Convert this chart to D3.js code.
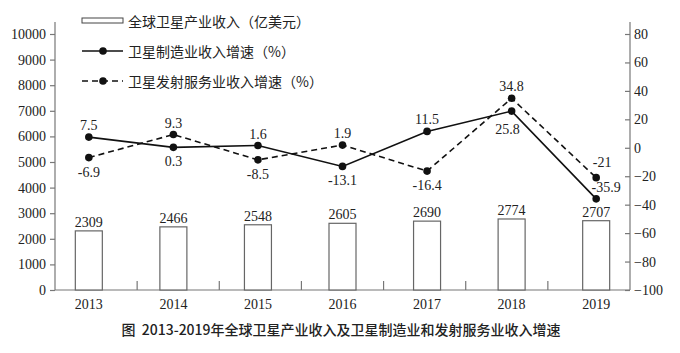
<!DOCTYPE html>
<html>
<head>
<meta charset="utf-8">
<script src="https://cdn.jsdelivr.net/npm/d3@7"></script>
<style>
  body { margin: 0; background: #fff; }
  svg { display: block; }
  .num { font-family: "Liberation Serif", "Times New Roman", serif; font-size: 14px; fill: #222; }
  .cjk { font-family: "Noto Sans CJK SC", sans-serif; font-size: 14px; fill: #222; }
</style>
</head>
<body>
<svg id="chart" width="680" height="353"></svg>
<script>
// data
var years = ["2013", "2014", "2015", "2016", "2017", "2018", "2019"];
var revenue = [2309, 2466, 2548, 2605, 2690, 2774, 2707];
var mfgGrowth = [7.5, 0.3, 1.6, -13.1, 11.5, 25.8, -35.9];
var launchGrowth = [-6.9, 9.3, -8.5, 1.9, -16.4, 34.8, -21];
var leftTicks = [0, 1000, 2000, 3000, 4000, 5000, 6000, 7000, 8000, 9000, 10000];
var rightTicks = [-100, -80, -60, -40, -20, 0, 20, 40, 60, 80];
var legendLabels = ["全球卫星产业收入（亿美元）", "卫星制造业收入增速（%）", "卫星发射服务业收入增速（%）"];
var caption = "图  2013-2019年全球卫星产业收入及卫星制造业和发射服务业收入增速";

// label offsets from each point, [dx, dy] to the text baseline
var mfgLabelOff = [[0, -7], [0, 19], [0, -7], [0, 19], [0, -7], [-4, 23], [10, -7]];
var launchLabelOff = [[0, 19], [0, -7], [0, 19], [0, -7], [0, 19], [0, -7], [6, -11]];

var svg = d3.select("#chart");
var plotLeft = 55, plotRight = 630, plotTop = 22, plotBottom = 290;
var axisColor = "#777";
var serif = '"Liberation Serif", "Times New Roman", serif';

/*
Scales
*/
var x = d3.scalePoint().domain(years).range([plotLeft, plotRight]).padding(0.4);
var xBand = d3.scaleBand().domain(years).range([plotLeft, plotRight]);
var yL = d3.scaleLinear().domain([0, 10000]).range([plotBottom, 34]);
var yR = d3.scaleLinear().domain([-100, 80]).range([plotBottom, 34]);

/*
Axes
*/
var gL = svg.append("g").attr("transform", "translate(" + plotLeft + ",0)")
	.call(d3.axisLeft(yL).tickValues(leftTicks).tickFormat(d3.format("d")).tickSize(5).tickPadding(4));
gL.select(".domain").attr("d", "M0," + plotTop + "V" + plotBottom);
var gR = svg.append("g").attr("transform", "translate(" + plotRight + ",0)")
	.call(d3.axisRight(yR).tickValues(rightTicks).tickFormat(d3.format("d")).tickSize(0).tickPadding(4));
gR.select(".domain").attr("d", "M0," + plotTop + "V" + plotBottom);
gR.selectAll(".tick").append("line").attr("x1", -5).attr("x2", 0);
[gL, gR].forEach(function(g) {
	g.attr("font-family", serif).attr("font-size", 14);
	g.selectAll(".domain, .tick line").attr("stroke", axisColor).attr("stroke-width", 1.2);
	g.selectAll("text").attr("fill", "#222")
		.style("font-family", serif).style("font-size", "14px");
});

// x axis line and category boundary ticks
svg.append("line").attr("x1", plotLeft).attr("x2", plotRight).attr("y1", plotBottom).attr("y2", plotBottom)
	.attr("stroke", axisColor).attr("stroke-width", 1.2);
svg.selectAll(".xtick").data(years.slice(1)).enter().append("line")
	.attr("class", "xtick")
	.attr("x1", function(d) { return xBand(d); }).attr("x2", function(d) { return xBand(d); })
	.attr("y1", plotBottom).attr("y2", plotBottom - 9)
	.attr("stroke", axisColor).attr("stroke-width", 1.2);
svg.selectAll(".xlabel").data(years).enter().append("text")
	.attr("class", "num")
	.attr("x", function(d) { return x(d); }).attr("y", 309)
	.attr("text-anchor", "middle").text(function(d) { return d; });

/*
Bars
*/
var barW = 27;
svg.selectAll(".bar").data(revenue).enter().append("rect")
	.attr("x", function(d, i) { return x(years[i]) - barW / 2; })
	.attr("y", function(d) { return yL(d); })
	.attr("width", barW)
	.attr("height", function(d) { return plotBottom - yL(d); })
	.attr("fill", "#fff").attr("stroke", "#666").attr("stroke-width", 1.2);
svg.selectAll(".barlabel").data(revenue).enter().append("text")
	.attr("class", "num")
	.attr("x", function(d, i) { return x(years[i]); })
	.attr("y", function(d) { return yL(d) - 4; })
	.attr("text-anchor", "middle").text(function(d) { return d; });

/*
Lines
*/
function drawSeries(values, dash, off) {
	var line = d3.line().x(function(d, i) { return x(years[i]); }).y(function(d) { return yR(d); });
	svg.append("path").datum(values).attr("d", line)
		.attr("fill", "none").attr("stroke", "#111").attr("stroke-width", 1.6)
		.attr("stroke-dasharray", dash);
	svg.selectAll(null).data(values).enter().append("circle")
		.attr("cx", function(d, i) { return x(years[i]); })
		.attr("cy", function(d) { return yR(d); })
		.attr("r", 3.8).attr("fill", "#111");
	svg.selectAll(null).data(values).enter().append("text")
		.attr("class", "num")
		.attr("x", function(d, i) { return x(years[i]) + off[i][0]; })
		.attr("y", function(d, i) { return yR(d) + off[i][1]; })
		.attr("text-anchor", "middle").text(function(d) { return d; });
}
drawSeries(mfgGrowth, null, mfgLabelOff);
drawSeries(launchGrowth, "6,4", launchLabelOff);

/*
Legend
*/
var lg = svg.append("g");
lg.append("rect").attr("x", 82).attr("y", 18).attr("width", 41).attr("height", 5)
	.attr("fill", "#fff").attr("stroke", "#444").attr("stroke-width", 1);
lg.append("line").attr("x1", 82).attr("x2", 123).attr("y1", 51).attr("y2", 51)
	.attr("stroke", "#111").attr("stroke-width", 1.6);
lg.append("circle").attr("cx", 103).attr("cy", 51).attr("r", 3.8).attr("fill", "#111");
lg.append("line").attr("x1", 82).attr("x2", 123).attr("y1", 81).attr("y2", 81)
	.attr("stroke", "#111").attr("stroke-width", 1.6).attr("stroke-dasharray", "6,4");
lg.append("circle").attr("cx", 103).attr("cy", 81).attr("r", 3.8).attr("fill", "#111");
lg.selectAll("text").data(legendLabels).enter().append("text")
	.attr("class", "cjk")
	.attr("x", 128).attr("y", function(d, i) { return 21 + i * 30; })
	.attr("dominant-baseline", "central").text(function(d) { return d; });

/*
Caption
*/
svg.append("text").attr("class", "cjk")
	.attr("x", 341).attr("y", 335).attr("text-anchor", "middle")
	.attr("font-weight", 500).attr("xml:space", "preserve")
	.text(caption);
</script>
</body>
</html>
